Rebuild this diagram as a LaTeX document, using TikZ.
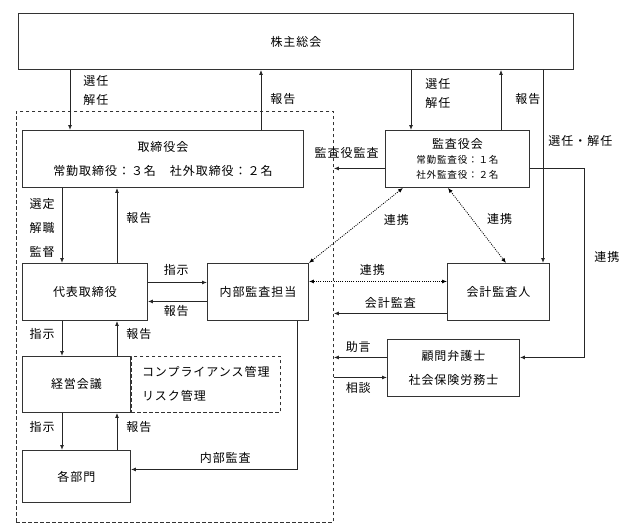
\documentclass[tikz,border=0pt]{standalone}
\usepackage{fontspec}
\setmainfont{Noto Sans CJK JP}[LetterSpace=8]
\usetikzlibrary{arrows.meta, positioning, backgrounds}

\begin{document}
\begin{tikzpicture}[x=1pt, y=-1pt,
                box/.style={draw=black!80, line width=0.9pt, anchor=north west, inner sep=2pt,
                            align=center, font=\fontsize{12}{24}\selectfont},
                group/.style={draw=black!80, line width=0.8pt, dash pattern=on 3.5pt off 2.5pt,
                              anchor=north west, inner sep=0pt},
                lbl/.style={font=\fontsize{12}{19}\selectfont, inner sep=1pt, align=left},
                arr/.style={-{Latex[length=5pt,width=4pt]}, line width=0.9pt, draw=black!85},
                link/.style={{Latex[length=5pt,width=4pt]}-{Latex[length=5pt,width=4pt]},
                             line width=0.8pt, dash pattern=on 1pt off 1.2pt}]

                \useasboundingbox (0,0) rectangle (635,531);

                % main boxes
                \node[box, minimum width=555pt, minimum height=56pt] (share) at (18,13) {株主総会};
                \node[box, minimum width=281pt, minimum height=57pt] (board) at (22,130)
                    {取締役会\\常勤取締役：３名　社外取締役：２名};
                \node[box, minimum width=144pt, minimum height=57pt, font=\fontsize{9.6}{15}\selectfont]
                    (audit) at (385,130) {{\fontsize{12}{15}\selectfont 監査役会}\\常勤監査役：１名\\社外監査役：２名};
                \node[box, minimum width=125pt, minimum height=57pt] (ceo) at (22,263) {代表取締役};
                \node[box, minimum width=101pt, minimum height=57pt] (internal) at (207,263) {内部監査担当};
                \node[box, minimum width=102pt, minimum height=57pt] (auditor) at (447,263) {会計監査人};
                \node[box, minimum width=108pt, minimum height=56pt] (mgmt) at (22,356) {経営会議};
                \node[box, minimum width=108pt, minimum height=52pt] (dept) at (22,450) {各部門};
                \node[box, minimum width=132pt, minimum height=57pt] (advisor) at (387,339)
                    {顧問弁護士\\社会保険労務士};

                % dashed groups
                \begin{scope}[on background layer]
                    \node[group, minimum width=317pt, minimum height=411pt] (corp) at (16,111) {};
                    \node[group, minimum width=149pt, minimum height=56pt, right=0pt of mgmt.north east,
                          anchor=north west, align=left, font=\fontsize{12}{24}\selectfont] (risk)
                        {コンプライアンス管理\\リスク管理};
                \end{scope}

                % shareholders
                \draw[arr] ([xshift=48]board.north west |- share.south) -- ([xshift=48]board.north west)
                    node[lbl, pos=0.35, right=12pt] {選任\\解任};
                \draw[arr] ([xshift=239]board.north west) -- ([xshift=239]board.north west |- share.south)
                    node[lbl, pos=0.52, right=8pt] {報告};
                \draw[arr] ([xshift=26]audit.north west |- share.south) -- ([xshift=26]audit.north west)
                    node[lbl, pos=0.4, right=13pt] {選任\\解任};
                \draw[arr] ([xshift=116]audit.north west) -- ([xshift=116]audit.north west |- share.south)
                    node[lbl, pos=0.52, right=13pt] {報告};
                \draw[arr] ([xshift=96]auditor.north west |- share.south) -- ([xshift=96]auditor.north west)
                    node[lbl, pos=0.366, right=4pt] {選任・解任};

                % auditors
                \draw[arr] ([yshift=-9.5]audit.west) -- ([yshift=-9.5]audit.west -| corp.east)
                    node[lbl, pos=0.75, above=9pt] {監査役監査};
                \draw[arr] ([yshift=-9.5]audit.east) -- ++(55,0) |- ([yshift=10.5]advisor.east)
                    node[lbl, pos=0.235, right=8pt] {連携};
                \draw[link] ([xshift=18]audit.south west) -- (internal.north east)
                    node[lbl, pos=0.43, right=20pt] {連携};
                \draw[link] ([xshift=63]audit.south west) -- ([xshift=59]auditor.north west)
                    node[lbl, pos=0.41, right=14pt] {連携};
                \draw[link] ([yshift=10.5]auditor.west) -- ([yshift=10.5]auditor.west -| internal.east)
                    node[lbl, pos=0.54, above=5pt] {連携};
                \draw[arr] ([yshift=-21.5]auditor.west) -- ([yshift=-21.5]auditor.west -| corp.east)
                    node[lbl, pos=0.5, above=4pt] {会計監査};

                % advisors
                \draw[arr] ([yshift=10.5]advisor.west) -- ([yshift=10.5]advisor.west -| corp.east)
                    node[lbl, pos=0.54, above=4pt] {助言};
                \draw[arr] ([yshift=-9.5]advisor.west -| corp.east) -- ([yshift=-9.5]advisor.west)
                    node[lbl, pos=0.46, below=4pt] {相談};

                % inside the company
                \draw[arr] ([xshift=40]board.south west) -- ([xshift=40]ceo.north west)
                    node[lbl, pos=0.53, left=6pt, font=\fontsize{12}{24}\selectfont] {選定\\解職\\監督};
                \draw[arr] ([xshift=95]ceo.north west) -- ([xshift=95]board.south west)
                    node[lbl, pos=0.6, right=8pt] {報告};
                \draw[arr] ([yshift=9.5]ceo.east) -- ([yshift=9.5]ceo.east -| internal.west)
                    node[lbl, pos=0.48, above=6pt] {指示};
                \draw[arr] ([yshift=-9.5]internal.west) -- ([yshift=-9.5]internal.west -| ceo.east)
                    node[lbl, pos=0.52, below=3pt] {報告};
                \draw[arr] ([xshift=40]ceo.south west) -- ([xshift=40]mgmt.north west)
                    node[lbl, pos=0.36, left=6pt] {指示};
                \draw[arr] ([xshift=95]mgmt.north west) -- ([xshift=95]ceo.south west)
                    node[lbl, pos=0.64, right=8pt] {報告};
                \draw[arr] ([xshift=40]mgmt.south west) -- ([xshift=40]dept.north west)
                    node[lbl, pos=0.37, left=6pt] {指示};
                \draw[arr] ([xshift=95]dept.north west) -- ([xshift=95]mgmt.south west)
                    node[lbl, pos=0.63, right=8pt] {報告};
                \draw[arr] ([xshift=90]internal.south west) |- ([yshift=7]dept.east)
                    node[lbl, pos=0.716, above=5pt] {内部監査};
\end{tikzpicture}
\end{document}
